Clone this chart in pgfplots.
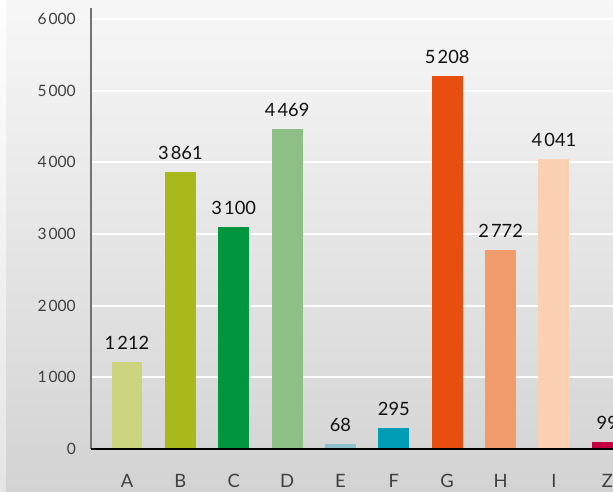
\documentclass[border=0pt]{standalone}
\usepackage{fontspec}
\setmainfont{Lato}
\usepackage{pgfplots}
\pgfplotsset{compat=1.18}

\definecolor{bgtop}{HTML}{F7F7F7}
\definecolor{bgbot}{HTML}{D3D3D3}
\definecolor{ticktext}{HTML}{404040}
\definecolor{valtext}{HTML}{111111}
\definecolor{cA}{HTML}{CCD480}
\definecolor{cB}{HTML}{A8B91C}
\definecolor{cC}{HTML}{00963F}
\definecolor{cD}{HTML}{8DBF86}
\definecolor{cE}{HTML}{8FC1CB}
\definecolor{cF}{HTML}{009DB5}
\definecolor{cG}{HTML}{E84E0F}
\definecolor{cH}{HTML}{F39C6B}
\definecolor{cI}{HTML}{FBD0B3}
\definecolor{cZ}{HTML}{C3003F}

\pgfplotsset{/pgf/number format/.cd, 1000 sep={\hspace{0.12em}}, assume math mode=true}

\begin{document}
\begin{tikzpicture}
% panel background
\shade[top color=white, bottom color=bgbot!60!white] (0pt,0pt) rectangle (6pt,491pt);
\shade[top color=bgtop, bottom color=bgbot] (6pt,0pt) rectangle (613pt,491pt);
\begin{axis}[
  at={(91pt,42pt)}, anchor=south west,
  scale only axis, width=559pt, height=441pt,
  xmin=-0.675, xmax=9.8, ymin=0, ymax=6153,
  axis x line=bottom, axis y line=left,
  x axis line style={draw=none},
  y axis line style={black!55, line width=1.5pt, -},
  xtick={0,...,9},
  xticklabels={A,B,C,D,E,F,G,H,I,Z},
  ytick={0,1000,...,6000},
  major tick length=0pt,
  ymajorgrids,
  major grid style={white, line width=2pt},
  xticklabel style={font=\fontsize{18.4}{18.4}\selectfont, text=ticktext, anchor=base, inner sep=0pt, yshift=-38pt},
  yticklabel style={font=\fontsize{15.6}{15.6}\selectfont, text=ticktext, anchor=east, inner sep=0pt, xshift=-15pt},
  ybar, bar shift=0pt, bar width=0.58,
  nodes near coords,
  nodes near coords style={font=\fontsize{18.3}{18.3}\selectfont, text=valtext, anchor=base, inner sep=0pt, yshift=12.5pt},
  clip=false,
]
\addplot[fill=cA, draw=none] coordinates {(0,1212)};
\addplot[fill=cB, draw=none] coordinates {(1,3861)};
\addplot[fill=cC, draw=none] coordinates {(2,3100)};
\addplot[fill=cD, draw=none] coordinates {(3,4469)};
\addplot[fill=cE, draw=none] coordinates {(4,68)};
\addplot[fill=cF, draw=none] coordinates {(5,295)};
\addplot[fill=cG, draw=none] coordinates {(6,5208)};
\addplot[fill=cH, draw=none] coordinates {(7,2772)};
\addplot[fill=cI, draw=none] coordinates {(8,4041)};
\addplot[fill=cZ, draw=none] coordinates {(9,99)};
% baseline drawn over the feet of the bars
\draw[black, line width=1.2pt] (axis cs:-0.675,0) -- (axis cs:9.8,0);
\end{axis}
\pgfresetboundingbox
\path[use as bounding box] (0pt,0pt) rectangle (613pt,491pt);
\end{tikzpicture}
\end{document}
